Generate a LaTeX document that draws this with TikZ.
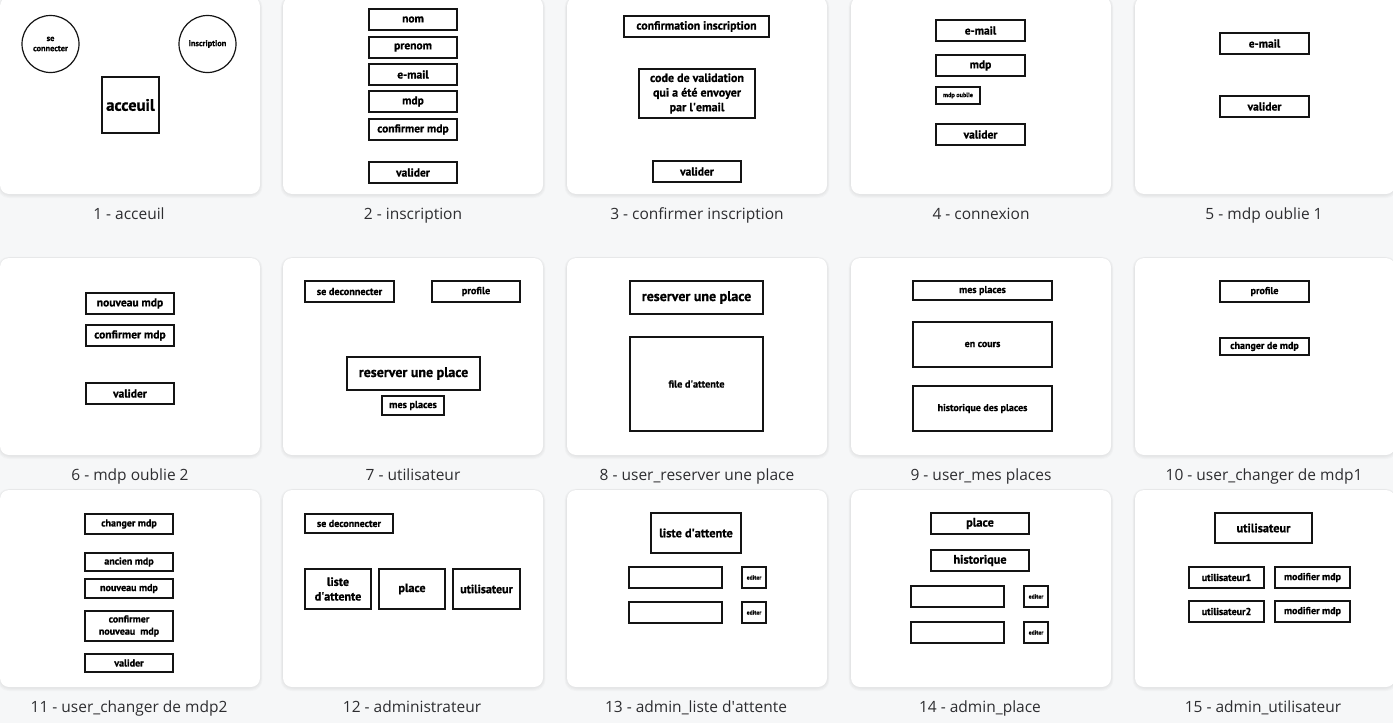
\documentclass[tikz,border=0pt]{standalone}
\usepackage{fontspec}
\setmainfont{Open Sans}
\newfontfamily\bxfamily[BoldFeatures={FakeBold=0.8}]{PT Sans}
\definecolor{bg}{RGB}{246,247,248}
\definecolor{lbl}{RGB}{45,45,48}
\newcommand\bfs[1]{\bxfamily\bfseries\fontsize{#1}{1.22\dimexpr#1pt\relax}\selectfont}
\newcommand\q{\textquotesingle}
\tikzset{
  bx/.style={draw=black!92, line width=1.3pt, fill=white, inner sep=0pt, align=center},
  circ/.style={draw=black!92, line width=1.2pt, fill=white, circle, inner sep=0pt, align=center, minimum size=57pt},
  panelbox/.style={fill=white, rounded corners=9pt},
  shadowbox/.style={fill=black, opacity=0.018, rounded corners=11pt},
  captxt/.style={font=\fontsize{15.5}{18}\selectfont, text=lbl, anchor=base}
}
% \bx{name}{x1}{y1}{x2}{y2}{fontsize}{text}
\newcommand\bx[7]{\node[bx, minimum width={#4-#2}, minimum height={#5-#3}, font=\bfs{#6}] (#1) at ({(#2+#4)/2},{(#3+#5)/2}) {#7};}
\begin{document}
\begin{tikzpicture}[x=1pt,y=-1pt]
\useasboundingbox (0,0) rectangle (1393,723);
\fill[bg] (0,0) rectangle (1393,723);
% panels
\foreach \px in {0,283,567,851,1135}{
  \foreach \py in {-3,258,490}{
    \foreach \d in {1,2,3,4}{
      \fill[shadowbox] ({\px-\d*0.6},{\py-\d*0.3}) rectangle ({\px+260+\d*0.6},{\py+197+\d*1.0});
    }
    \fill[panelbox] (\px,\py) rectangle ({\px+260},{\py+197});
  }
}
% captions
\node[captxt] (c1) at (129,219.5) {1 - acceuil};
\node[captxt] (c2) at (413,219.5) {2 - inscription};
\node[captxt] (c3) at (697,219.5) {3 - confirmer inscription};
\node[captxt] (c4) at (981,219.5) {4 - connexion};
\node[captxt] (c5) at (1264,219.5) {5 - mdp oublie 1};
\node[captxt] (c6) at (130,480.5) {6 - mdp oublie 2};
\node[captxt] (c7) at (413,480.5) {7 - utilisateur};
\node[captxt] (c8) at (697,480.5) {8 - user\_reserver une place};
\node[captxt] (c9) at (981,480.5) {9 - user\_mes places};
\node[captxt] (c10) at (1264,480.5) {10 - user\_changer de mdp1};
\node[captxt] (c11) at (129,712.5) {11 - user\_changer de mdp2};
\node[captxt] (c12) at (412,712.5) {12 - administrateur};
\node[captxt] (c13) at (696,712.5) {13 - admin\_liste d\q attente};
\node[captxt] (c14) at (980,712.5) {14 - admin\_place};
\node[captxt] (c15) at (1263,712.5) {15 - admin\_utilisateur};
% panel 1
\node[circ, font=\bfs{8.3}] (p1se) at (50.5,44) {se\\connecter};
\node[circ, font=\bfs{8.3}] (p1ins) at (207.5,44) {inscription};
\bx{p1acc}{102}{77}{159}{133}{16.5}{acceuil}
% panel 2
\bx{p2nom}{369}{9}{457}{30}{11.5}{nom}
\bx{p2pre}{369}{37}{457}{58}{11.5}{prenom}
\bx{p2mail}{369}{64}{457}{85}{11.5}{e-mail}
\bx{p2mdp}{369}{91}{457}{112}{11.5}{mdp}
\bx{p2conf}{369}{119}{457}{140}{11.5}{confirmer mdp}
\bx{p2val}{369}{162}{457}{183}{11.5}{valider}
% panel 3
\bx{p3conf}{624}{16}{769}{37}{11.8}{confirmation inscription}
\bx{p3code}{639}{69}{755}{118}{12}{code de validation\\qui a été envoyer\\par l\q email}
\bx{p3val}{653}{161}{741}{182}{11.5}{valider}
% panel 4
\bx{p4mail}{936}{20}{1025}{41}{11.5}{e-mail}
\bx{p4mdp}{936}{55}{1025}{76}{11.5}{mdp}
\bx{p4oub}{936}{87}{980}{104}{6.2}{mdp oublie}
\bx{p4val}{936}{124}{1025}{145}{11.5}{valider}
% panel 5
\bx{p5mail}{1220}{33}{1309}{54}{11.5}{e-mail}
\bx{p5val}{1220}{96}{1309}{117}{11.5}{valider}
% panel 6
\bx{p6nouv}{86}{293}{174}{314}{11.5}{nouveau mdp}
\bx{p6conf}{86}{325}{174}{346}{11.5}{confirmer mdp}
\bx{p6val}{86}{383}{174}{404}{11.5}{valider}
% panel 7
\bx{p7dec}{305}{281}{394}{302}{10.2}{se deconnecter}
\bx{p7prof}{432}{281}{520}{302}{10.2}{profile}
\bx{p7res}{347}{357}{480}{390}{14}{reserver une place}
\bx{p7mes}{382}{396}{444}{415}{10.2}{mes places}
% panel 8
\bx{p8res}{630}{281}{763}{314}{14}{reserver une place}
\bx{p8file}{630}{337}{763}{431}{10.2}{file d\q attente}
% panel 9
\bx{p9mes}{913}{281}{1052}{300}{10}{mes places}
\bx{p9enc}{913}{322}{1052}{367}{10}{en cours}
\bx{p9hist}{913}{386}{1052}{431}{10}{historique des places}
% panel 10
\bx{p10prof}{1220}{281}{1309}{302}{10}{profile}
\bx{p10chg}{1220}{338}{1309}{355}{10}{changer de mdp}
% panel 11
\bx{p11chg}{85}{514}{173}{534}{10}{changer mdp}
\bx{p11anc}{85}{553}{173}{571}{10}{ancien mdp}
\bx{p11nouv}{85}{579}{173}{598}{10}{nouveau mdp}
\bx{p11conf}{85}{611}{173}{641}{10}{confirmer\\nouveau\ \ mdp}
\bx{p11val}{85}{654}{173}{672}{10}{valider}
% panel 12
\bx{p12dec}{305}{514}{393}{533}{10}{se deconnecter}
\bx{p12list}{305}{569}{371}{609}{12}{liste\\d\q attente}
\bx{p12place}{379}{569}{445}{609}{12}{place}
\bx{p12util}{453}{569}{520}{609}{12}{utilisateur}
% panel 13
\bx{p13list}{651}{513}{741}{553}{12.3}{liste d\q attente}
\bx{p13a}{629}{567}{722}{588}{5}{}
\bx{p13ea}{742}{567}{766}{588}{5.8}{editer}
\bx{p13b}{629}{602}{722}{623}{5}{}
\bx{p13eb}{742}{602}{766}{623}{5.8}{editer}
% panel 14
\bx{p14place}{931}{513}{1029}{534}{12.3}{place}
\bx{p14hist}{931}{550}{1029}{571}{12.3}{historique}
\bx{p14a}{911}{586}{1004}{607}{5}{}
\bx{p14ea}{1024}{586}{1048}{607}{5.8}{editer}
\bx{p14b}{911}{622}{1004}{643}{5}{}
\bx{p14eb}{1024}{622}{1048}{643}{5.8}{editer}
% panel 15
\bx{p15util}{1215}{513}{1312}{543}{12.3}{utilisateur}
\bx{p15u1}{1189}{567}{1264}{588}{10}{utilisateur1}
\bx{p15m1}{1275}{567}{1350}{588}{10}{modifier mdp}
\bx{p15u2}{1189}{601}{1264}{622}{10}{utilisateur2}
\bx{p15m2}{1275}{601}{1350}{622}{10}{modifier mdp}
\end{tikzpicture}
\end{document}
